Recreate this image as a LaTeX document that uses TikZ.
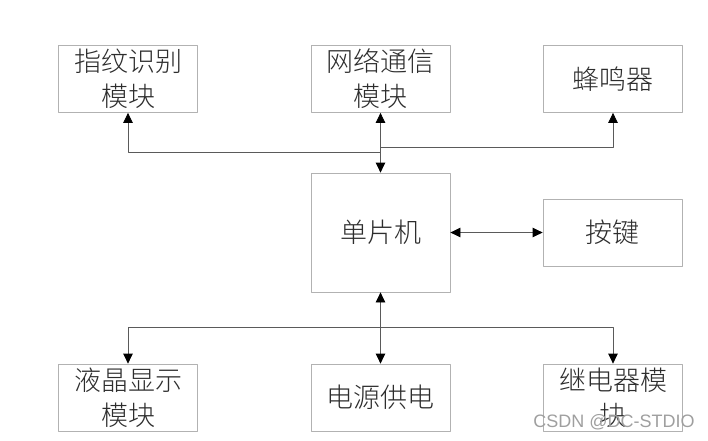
\documentclass[tikz,border=0pt]{standalone}
\usepackage{fontspec}
\newfontfamily\cjk{Noto Sans CJK SC}[UprightFont=* Light]
\newfontfamily\wmfont{Liberation Sans}
\usetikzlibrary{arrows.meta}
\definecolor{boxgray}{RGB}{178,178,178}
\definecolor{linegray}{RGB}{90,90,90}
\definecolor{textgray}{RGB}{45,45,45}
\tikzset{
  blk/.style={draw=boxgray,line width=0.8pt,minimum width=139pt,minimum height=67pt,
    inner sep=0pt,align=center,text=textgray,font=\cjk\fontsize{27}{35}\selectfont},
  link/.style={draw=linegray,line width=0.8pt}
}
\begin{document}
\begin{tikzpicture}[x=1pt,y=-1pt,>={Triangle[length=10pt,width=9.5pt,color=black]},line join=round]
                \useasboundingbox (0,0) rectangle (708,440);
                % upper row
                \node[blk] (fp) at (128,79) {指纹识别\\模块};
                \node[blk] (net) at (380.5,79) {网络通信\\模块};
                \node[blk] (bz) at (613,79) {蜂鸣器};
                % middle
                \node[blk,minimum height=119pt] (mcu) at (380.5,232.5) {单片机};
                \node[blk] (key) at (612.5,232.5) {按键};
                % lower row
                \node[blk] (lcd) at (128,397.5) {液晶显示\\模块};
                \node[blk] (pwr) at (380.5,397.5) {电源供电};
                \node[blk] (relay) at (613,397.5) {继电器模\\块};
                \coordinate (tl) at (380.5,152);
                \coordinate (tr) at (380.5,147);
                \coordinate (bm) at (380.5,327);
                \draw[link,<->] (net) -- (mcu);
                \draw[link,->] (tl) -| (fp);
                \draw[link,->] (tr) -| (bz);
                \draw[link,<->] (mcu) -- (key);
                \draw[link,<->] (mcu) -- (pwr);
                \foreach \b in {lcd,relay}\draw[link,->] (bm) -| (\b);
                \node[text=gray!75,font=\wmfont\fontsize{18}{18}\selectfont,inner sep=0pt] (wm) at (614,422) {CSDN @DC-STDIO};
            \end{tikzpicture}
\end{document}
